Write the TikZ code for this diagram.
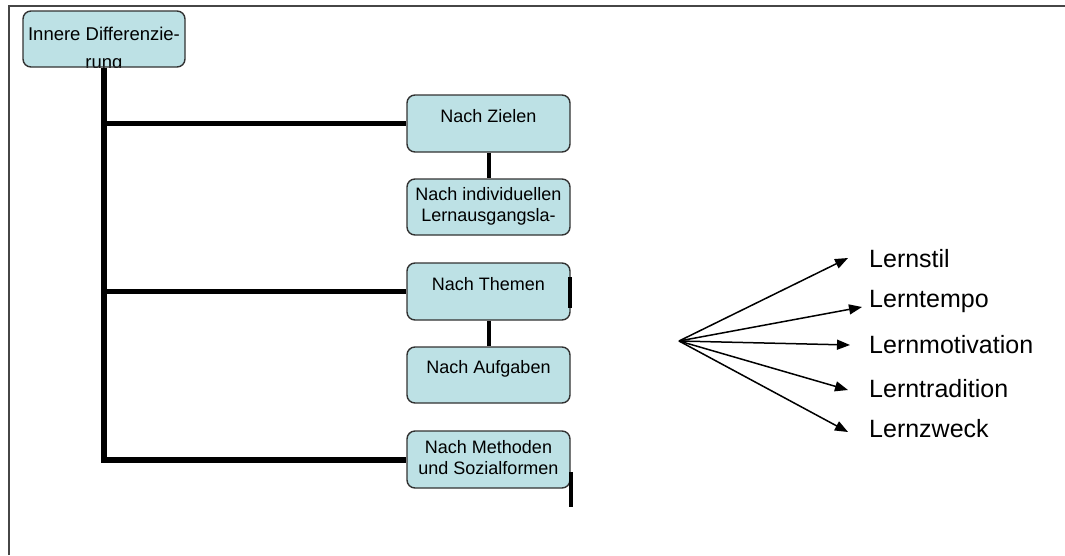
\documentclass[tikz,border=0pt]{standalone}
\usepackage{fontspec}
\setmainfont{Liberation Sans}
\usetikzlibrary{arrows.meta}
\definecolor{boxfill}{RGB}{189,225,229}
\definecolor{boxline}{RGB}{50,50,50}
\definecolor{framegray}{RGB}{70,70,70}
% two centred lines whose baseline is the first line
\newcommand{\boxlines}[2]{\begin{tabular}[t]{@{}c@{}}#1\\#2\end{tabular}}
\begin{document}
\begin{tikzpicture}[x=1pt,y=-1pt,
  boxfont/.style={font=\fontsize{18}{21}\selectfont},
  rootfont/.style={font=\fontsize{18.5}{22}\selectfont},
  stepbox/.style={draw=boxline,line width=1.4pt,fill=boxfill,rounded corners=8pt,
    inner xsep=0pt,inner ysep=0pt,minimum width=163pt,anchor=base,boxfont},
  trunk/.style={line width=6pt,line join=miter},
  branch/.style={line width=5pt},
  link/.style={line width=4pt},
  fan/.style={line width=1.5pt,-{Triangle[length=13pt,width=10pt]}},
  lbl/.style={anchor=base west,inner sep=0pt,font=\fontsize{25}{28}\selectfont},
  framestyle/.style={draw=framegray,line width=1.5pt}]
\useasboundingbox (0,0) rectangle (1065,555);

% page frame (top and left edges)
\draw[framestyle] (9,555) -- (9,6) -- (1065,6);

% root box, its second line cut off by the box edge
\node[stepbox,rootfont,minimum width=162pt,text height=29pt,text depth=27pt,
  path picture={\node[rootfont,anchor=base,inner sep=0pt]
    at ([yshift=-1.5pt]path picture bounding box.south) {rung};}]
  (root) at (104,40) {Innere Differenzie-};

% branch boxes
\node[stepbox,text height=27pt,text depth=30pt] (zielen) at (488.5,122) {Nach Zielen};
\node[stepbox,text height=21.5pt,text depth=34.5pt] (indiv) at (488.5,200.5)
  {\boxlines{Nach individuellen}{Lernausgangsla-}};
\node[stepbox,text height=27pt,text depth=30pt] (themen) at (488.5,290) {Nach Themen};
\node[stepbox,text height=26pt,text depth=30pt] (aufgaben) at (488.5,373) {Nach Aufgaben};
\node[stepbox,text height=22pt,text depth=35pt] (methoden) at (488.5,453)
  {\boxlines{Nach Methoden}{und Sozialformen}};

% tree connectors
\draw[trunk] (root.south) |- (methoden.west);
\draw[branch] (root.south |- zielen.west) -- (zielen.west);
\draw[branch] (root.south |- themen.west) -- (themen.west);
\draw[link] (zielen.south) -- (indiv.north);
\draw[link] (themen.south) -- (aufgaben.north);

% short stubs at the right of two boxes
\coordinate (stubA1) at (570,277);
\coordinate (stubA2) at (570,308);
\coordinate (stubB1) at (571,472);
\coordinate (stubB2) at (571,507);
\draw[link] (stubA1) -- (stubA2);
\draw[link] (stubB1) -- (stubB2);

% learner factors
\node[lbl] (stil) at (869,267) {Lernstil};
\node[lbl] (tempo) at (869,307) {Lerntempo};
\node[lbl] (motiv) at (869,353) {Lernmotivation};
\node[lbl] (trad) at (869,397) {Lerntradition};
\node[lbl] (zweck) at (869,437) {Lernzweck};

\coordinate (hub) at (679,341);
\coordinate (tipstil) at (848,258);
\coordinate (tiptempo) at (862,307);
\coordinate (tipmotiv) at (850,345);
\coordinate (tiptrad) at (848,390);
\coordinate (tipzweck) at (848,432);
\draw[fan] (hub) -- (tipstil);
\draw[fan] (hub) -- (tiptempo);
\draw[fan] (hub) -- (tipmotiv);
\draw[fan] (hub) -- (tiptrad);
\draw[fan] (hub) -- (tipzweck);
\end{tikzpicture}
\end{document}
